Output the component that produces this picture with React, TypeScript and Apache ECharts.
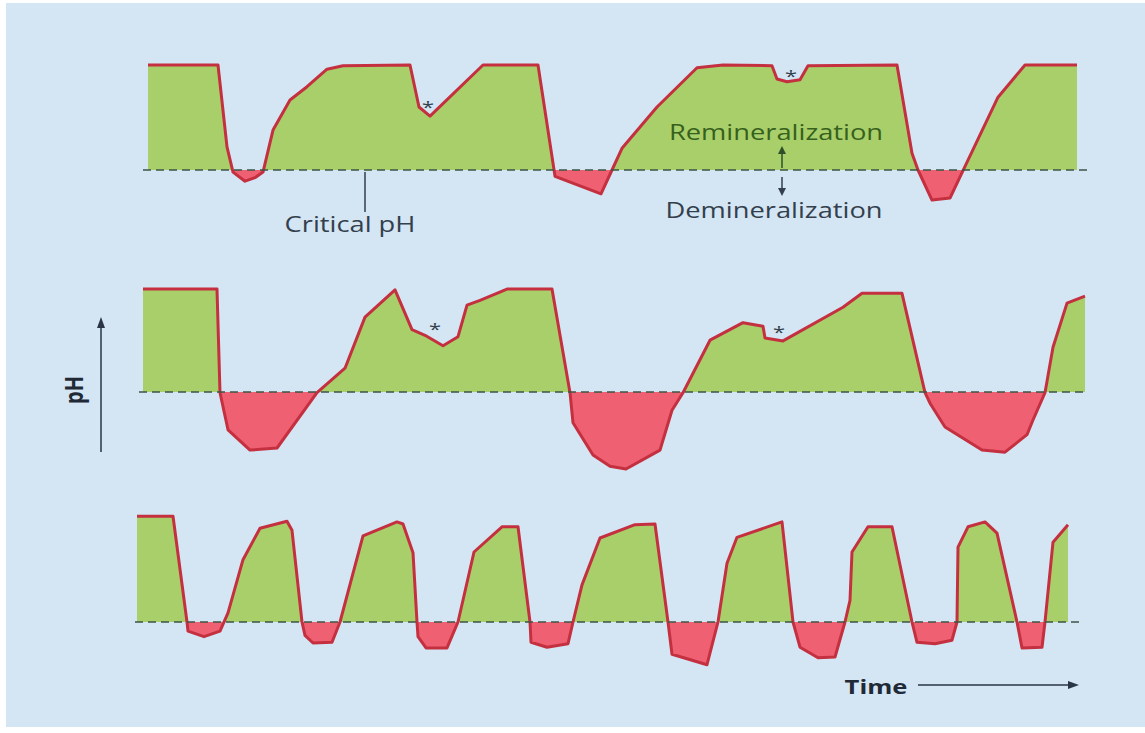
import React, { useEffect, useRef } from "react";
import * as echarts from "echarts";

const CRITICAL_PH = 5.5;
const PH_MIN = 4.2;
const PH_MAX = 7.5;

// Panel 1: time (arbitrary minutes) and pH
const p1Time = [8, 78, 87, 93, 105, 115, 123, 133, 150, 167, 187, 203, 270, 279, 290, 343, 398, 415, 461, 472, 482, 517, 557, 583, 632, 637, 647, 660, 668, 757, 772, 778, 792, 810, 823, 858, 885, 937];
const p1PH = [7.0, 7.0, 5.83, 5.47, 5.34, 5.39, 5.47, 6.07, 6.5, 6.69, 6.94, 6.99, 7.0, 6.4, 6.27, 7.0, 7.0, 5.41, 5.16, 5.5, 5.81, 6.4, 6.96, 7.0, 6.99, 6.8, 6.76, 6.79, 6.99, 7.0, 5.74, 5.5, 5.07, 5.1, 5.49, 6.54, 7.0, 7.0];

// Panel 2
const p2Time = [3, 77, 80, 88, 110, 137, 177, 205, 225, 255, 272, 285, 303, 318, 327, 340, 367, 412, 430, 433, 453, 470, 486, 520, 532, 543, 570, 603, 623, 625, 643, 703, 722, 762, 785, 790, 805, 842, 865, 887, 893, 905, 913, 927, 945];
const p2PH = [6.97, 6.97, 5.49, 4.96, 4.67, 4.7, 5.49, 5.84, 6.57, 6.96, 6.39, 6.31, 6.16, 6.29, 6.74, 6.81, 6.97, 6.97, 5.49, 5.06, 4.6, 4.44, 4.4, 4.67, 5.24, 5.49, 6.24, 6.49, 6.44, 6.27, 6.23, 6.71, 6.91, 6.91, 5.49, 5.34, 5.0, 4.67, 4.64, 4.89, 5.1, 5.49, 6.14, 6.77, 6.87];

// Panel 3
const p3Time = [-3, 33, 47, 48, 64, 80, 88, 103, 120, 147, 152, 162, 165, 173, 192, 200, 223, 257, 263, 273, 277, 278, 286, 307, 318, 334, 362, 378, 390, 391, 407, 428, 433, 442, 460, 495, 515, 528, 532, 567, 578, 587, 597, 642, 653, 660, 678, 695, 705, 710, 712, 728, 752, 772, 777, 795, 812, 817, 818, 828, 845, 857, 877, 882, 902, 905, 913, 928];
const p3PH = [7.01, 7.01, 5.5, 5.37, 5.29, 5.37, 5.63, 6.39, 6.84, 6.94, 6.81, 5.5, 5.31, 5.2, 5.21, 5.5, 6.73, 6.93, 6.9, 6.49, 5.5, 5.29, 5.13, 5.13, 5.5, 6.5, 6.86, 6.86, 5.5, 5.21, 5.14, 5.19, 5.5, 6.03, 6.7, 6.89, 6.9, 5.5, 5.04, 4.89, 5.5, 6.34, 6.71, 6.93, 5.5, 5.14, 4.99, 5.0, 5.5, 5.81, 6.5, 6.86, 6.86, 5.5, 5.21, 5.19, 5.24, 5.5, 6.57, 6.86, 6.93, 6.77, 5.5, 5.13, 5.14, 5.5, 6.64, 6.89];

// Extent of the dashed critical-pH line in each panel (time)
const criticalSpans = [
  [3, 948],
  [-1, 946],
  [-5, 942],
];

const panelTimes = [p1Time, p2Time, p3Time];
const panelPHs = [p1PH, p2PH, p3PH];
const gridTops = [30, 252, 482];

const GREEN = "#a9cf6a";
const RED = "#ef6072";
const LINE = "#c4303f";
const DARK = "#333f4c";
const FONT = "'Open Sans', 'Noto Sans', sans-serif";
const SX = 1.28;

export default function App() {
  const ref = useRef<HTMLDivElement>(null);

  useEffect(() => {
    if (!ref.current) return;
    const chart = echarts.init(ref.current, null, { renderer: "svg" });

    const pxPerPH = 70;
    const fullH = (PH_MAX - PH_MIN) * pxPerPH;
    const upH = (PH_MAX - CRITICAL_PH) * pxPerPH;
    const lowH = (CRITICAL_PH - PH_MIN) * pxPerPH;

    const grid: any[] = [];
    const xAxis: any[] = [];
    const yAxis: any[] = [];
    const series: any[] = [];

    const addGrid = (top: number, height: number, min: number, max: number) => {
      const idx = grid.length;
      grid.push({ left: 120, width: 1000, top, height });
      xAxis.push({ type: "value", gridIndex: idx, min: -20, max: 980, show: false });
      yAxis.push({ type: "value", gridIndex: idx, min, max, show: false });
      return idx;
    };

    panelTimes.forEach((times, i) => {
      const top = gridTops[i];
      const data = times.map((t, j) => [t, panelPHs[i][j]]);
      const full = addGrid(top, fullH, PH_MIN, PH_MAX);
      const up = addGrid(top, upH, CRITICAL_PH, PH_MAX);
      const low = addGrid(top + upH, lowH, PH_MIN, CRITICAL_PH);

      series.push({
        type: "line",
        xAxisIndex: up,
        yAxisIndex: up,
        data,
        symbol: "none",
        lineStyle: { width: 0, opacity: 0 },
        areaStyle: { color: GREEN, opacity: 1, origin: "start" },
        z: 1,
      });
      series.push({
        type: "line",
        xAxisIndex: low,
        yAxisIndex: low,
        data,
        symbol: "none",
        lineStyle: { width: 0, opacity: 0 },
        areaStyle: { color: RED, opacity: 1, origin: "end" },
        z: 1,
      });
      series.push({
        type: "line",
        xAxisIndex: full,
        yAxisIndex: full,
        data,
        symbol: "none",
        lineStyle: { color: LINE, width: 3, join: "round" },
        z: 3,
      });
      series.push({
        type: "line",
        xAxisIndex: full,
        yAxisIndex: full,
        data: criticalSpans[i].map((t) => [t, CRITICAL_PH]),
        symbol: "none",
        lineStyle: { color: "#3d5546", width: 1.5, type: [8, 5] },
        z: 5,
      });
    });

    const txt = (text: string, x: number, y: number, size: number, color: string, weight: string | number = 500, sx = SX) => ({
      type: "text",
      x,
      y,
      z: 100,
      scaleX: sx,
      style: {
        text,
        fill: color,
        font: `${weight} ${size}px ${FONT}`,
        textAlign: "center",
        textVerticalAlign: "middle",
      },
    });
    const ln = (x1: number, y1: number, x2: number, y2: number, color: string, w = 1.5) => ({
      type: "line",
      z: 100,
      shape: { x1, y1, x2, y2 },
      style: { stroke: color, lineWidth: w },
    });
    const tri = (pts: number[][], color: string) => ({
      type: "polygon",
      z: 100,
      shape: { points: pts },
      style: { fill: color },
    });

    const graphic = [
      { type: "rect", z: -10, shape: { x: 6, y: 3, width: 1139, height: 724 }, style: { fill: "#d4e5f4" } },
      ln(365, 172, 365, 212, DARK),
      txt("Critical pH", 350, 224, 21, DARK, 500, 1.3),
      txt("Remineralization", 776, 132, 21, "#36611c", 500, 1.3),
      ln(782, 168, 782, 152, "#2f4f2a"),
      tri([[778, 154], [786, 154], [782, 146]], "#2f4f2a"),
      ln(782, 177, 782, 189, DARK),
      tri([[778, 188], [786, 188], [782, 196]], DARK),
      txt("Demineralization", 774, 210, 21, DARK, 500, 1.3),
      txt("*", 428, 106, 17, DARK),
      txt("*", 791, 75, 17, DARK),
      txt("*", 435, 328, 17, DARK),
      txt("*", 779, 331, 17, DARK),
      {
        type: "text",
        x: 73,
        y: 390,
        z: 100,
        rotation: Math.PI / 2,
        scaleY: SX,
        style: {
          text: "pH",
          fill: "#1f2a36",
          font: `bold 20px ${FONT}`,
          textAlign: "center",
          textVerticalAlign: "middle",
        },
      },
      ln(101, 452, 101, 326, "#2a3644", 1.5),
      tri([[97, 328], [105, 328], [101, 317]], "#2a3644"),
      txt("Time", 876, 686, 20, "#1f2a36", "bold"),
      ln(918, 685, 1070, 685, "#2a3644", 1.5),
      tri([[1068, 681], [1068, 689], [1079, 685]], "#2a3644"),
    ];

    chart.setOption({
      animation: false,
      backgroundColor: "#ffffff",
      grid,
      xAxis,
      yAxis,
      series,
      graphic,
    });

    return () => chart.dispose();
  }, []);

  return (
    <div
      ref={ref}
      style={{ position: "fixed", left: 0, top: 0, width: 1145, height: 733 }}
    />
  );
}
